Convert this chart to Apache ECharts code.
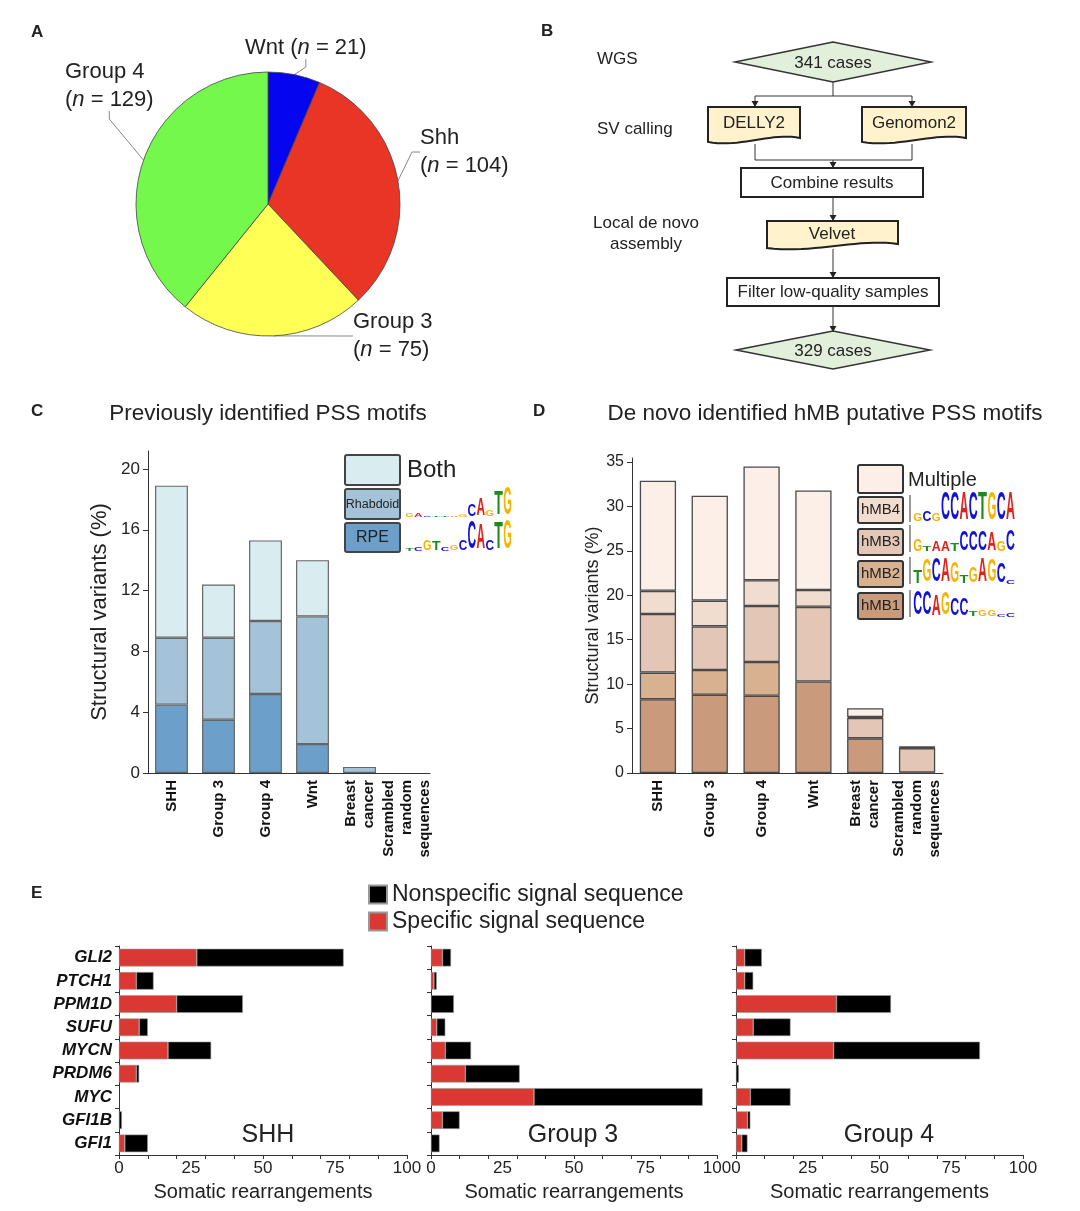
<!DOCTYPE html>
<html><head><meta charset="utf-8">
<script src="https://cdn.jsdelivr.net/npm/echarts@6/dist/echarts.min.js"></script>
<style>html,body{margin:0;padding:0;background:#fff}#c{width:1080px;height:1211px}</style>
</head><body><div id="c"></div><script>
const FONT = '"Liberation Sans", Arial, Helvetica, sans-serif';

// ---------- Panel A data ----------
const pieNames = ['Wnt', 'Shh', 'Group 3', 'Group 4'];
const pieValues = [21, 104, 75, 129];
const pieColors = ['#0505F0', '#E83526', '#FFFF55', '#74F84B'];

// ---------- Panel C data ----------
const catsC = ['SHH', 'Group 3', 'Group 4', 'Wnt', 'Breast\ncancer', 'Scrambled\nrandom\nsequences'];
const rpe = [4.5, 3.5, 5.2, 1.9, 0, 0];
const rhabdoid = [4.4, 5.4, 4.8, 8.4, 0.4, 0];
const both = [10.0, 3.5, 5.3, 3.7, 0, 0];
const ticksC = [0, 4, 8, 12, 16, 20];

// ---------- Panel D data ----------
const hmb1 = [8.3, 8.8, 8.7, 10.3, 3.9, 0.05];
const hmb2 = [3.0, 2.8, 3.8, 0, 0, 0];
const hmb3 = [6.6, 4.9, 6.3, 8.4, 2.3, 2.75];
const hmb4 = [2.6, 2.9, 2.9, 1.9, 0.1, 0.1];
const multiple = [12.4, 11.8, 12.8, 11.2, 1.0, 0.05];
const ticksD = [0, 5, 10, 15, 20, 25, 30, 35];

// ---------- Panel E data ----------
const genes = ['GLI2', 'PTCH1', 'PPM1D', 'SUFU', 'MYCN', 'PRDM6', 'MYC', 'GFI1B', 'GFI1'];
const shhSpec = [27, 6, 20, 7, 17, 6, 0, 0, 2];
const shhNon  = [51, 6, 23, 3, 15, 1, 0, 1, 8];
const g3Spec  = [4, 1, 0, 2, 5, 12, 36, 4, 0];
const g3Non   = [3, 1, 8, 3, 9, 19, 59, 6, 3];
const g4Spec  = [3, 3, 35, 6, 34, 0, 5, 4, 2];
const g4Non   = [6, 3, 19, 13, 51, 1, 14, 1, 2];
const ticksE = [0, 25, 50, 75, 100];
const minorTicksE = [0, 10, 20, 30, 40, 50, 60, 70, 80, 90, 100];

const nz = a => a.map(v => v === 0 ? '-' : v);

// ---------- graphic helpers ----------
const graphic = [];
function txt(x, y, s, o) {
  graphic.push({type: 'text', x, y, silent: true, z: 50,
    style: Object.assign({text: s, fontFamily: FONT, fontSize: 17, fill: '#222', align: 'left', verticalAlign: 'middle'}, o || {})});
}
function poly(points, fill, stroke, lw) {
  graphic.push({type: 'polygon', silent: true, z: 40, shape: {points}, style: {fill: fill, stroke: stroke, lineWidth: lw}});
}
function line(points) {
  graphic.push({type: 'polyline', silent: true, z: 40, shape: {points}, style: {stroke: '#333', lineWidth: 1, fill: null}});
}
function arrowHead(x, y) { poly([[x - 3.5, y - 6], [x + 3.5, y - 6], [x, y]], '#222', null, 0); }
function diamond(cx, cy, hw, hh) { poly([[cx - hw, cy], [cx, cy - hh], [cx + hw, cy], [cx, cy + hh]], '#E2EFDA', '#333', 1.5); }
function doc(x, y, w, h) {
  const pts = [[x, y], [x + w, y], [x + w, y + h - 3]];
  const p0 = [x + w, y + h - 3], p1 = [x + w * 0.7, y + h - 9], p2 = [x + w * 0.35, y + h + 7], p3 = [x, y + h + 1];
  for (let k = 1; k <= 20; k++) {
    const t = k / 20, u = 1 - t;
    pts.push([u*u*u*p0[0] + 3*u*u*t*p1[0] + 3*u*t*t*p2[0] + t*t*t*p3[0],
              u*u*u*p0[1] + 3*u*u*t*p1[1] + 3*u*t*t*p2[1] + t*t*t*p3[1]]);
  }
  poly(pts, '#FFF2CC', '#222', 2);
}
function box(x, y, w, h, fill, stroke, lw, r) {
  graphic.push({type: 'rect', silent: true, z: 40, shape: {x, y, width: w, height: h, r: r || 0},
    style: {fill, stroke, lineWidth: lw}});
}

// ---------- panel letters & titles ----------
txt(31, 32, 'A', {fontWeight: 'bold', fontSize: 17});
txt(541, 31, 'B', {fontWeight: 'bold', fontSize: 17});
txt(31, 411, 'C', {fontWeight: 'bold', fontSize: 17});
txt(533, 411, 'D', {fontWeight: 'bold', fontSize: 17});
txt(31, 893, 'E', {fontWeight: 'bold', fontSize: 17});
txt(268, 414, 'Previously identified PSS motifs', {fontSize: 22.5, align: 'center'});
txt(825, 414, 'De novo identified hMB putative PSS motifs', {fontSize: 22.5, align: 'center'});

// ---------- Panel B flowchart ----------
txt(597, 59, 'WGS');
txt(597, 129, 'SV calling');
txt(646, 223, 'Local de novo', {align: 'center'});
txt(646, 244, 'assembly', {align: 'center'});
diamond(833, 62, 98, 20);
txt(833, 63, '341 cases', {align: 'center'});
line([[833, 82], [833, 96]]);
line([[755, 96], [912, 96]]);
line([[755, 96], [755, 107]]); arrowHead(755, 107);
line([[912, 96], [912, 107]]); arrowHead(912, 107);
doc(708, 107, 92, 34);
txt(754, 123, 'DELLY2', {align: 'center'});
doc(862, 107, 104, 34);
txt(914, 123, 'Genomon2', {align: 'center'});
line([[755, 144], [755, 160], [912, 160], [912, 144]]);
line([[833, 160], [833, 168]]); arrowHead(833, 168);
box(741, 168, 182, 29, '#fff', '#222', 2);
txt(832, 183, 'Combine results', {align: 'center'});
line([[833, 197], [833, 221]]); arrowHead(833, 221);
doc(767, 221, 131, 26);
txt(832, 234, 'Velvet', {align: 'center'});
line([[833, 249], [833, 278]]); arrowHead(833, 278);
box(727, 278, 212, 28, '#fff', '#222', 2);
txt(833, 292, 'Filter low-quality samples', {align: 'center'});
line([[833, 306], [833, 332]]); arrowHead(833, 332);
diamond(833, 350, 97, 19);
txt(833, 351, '329 cases', {align: 'center'});

// ---------- sequence logos ----------
const LC = {A: '#E0221C', C: '#1212D6', G: '#F5B400', T: '#1C8A1C'};
const LW = {A: 14.4, C: 14.4, G: 15.6, T: 12.2};
function logo(x0, base, w, maxH, seq, hts) {
  const chars = seq.split(''), n = chars.length, cw = w / n;
  chars.forEach((ch, i) => {
    const h = hts[i] * maxH;
    if (h < 0.8) return;
    graphic.push({type: 'text', silent: true, z: 45, x: x0 + cw * (i + 0.5), y: base - h / 2,
      scaleX: cw * 0.96 / LW[ch], scaleY: h / 14.3,
      style: {text: ch, fontFamily: FONT, fontSize: 20, fontWeight: 'bold', fill: LC[ch], align: 'center', verticalAlign: 'middle'}});
  });
}

// Panel C legend
const colC = {RPE: '#6C9FC9', Rhabdoid: '#A4C3D9', Both: '#D9ECEF'};
box(345, 455, 55, 30, colC.Both, '#444', 2, 2);
box(345, 489, 55, 30, colC.Rhabdoid, '#444', 2, 2);
box(345, 523, 55, 29, colC.RPE, '#444', 2, 2);
txt(407, 470, 'Both', {fontSize: 24});
txt(372.5, 505, 'Rhabdoid', {fontSize: 12.5, align: 'center'});
txt(372.5, 538, 'RPE', {fontSize: 16, align: 'center'});
logo(405, 517, 107, 28, 'GACTTAGCAGTG', [0.12, 0.12, 0.03, 0.03, 0.03, 0.03, 0.08, 0.4, 0.6, 0.25, 0.85, 1.0]);
logo(405, 551, 107, 29, 'TCGTCGCCACTG', [0.1, 0.15, 0.35, 0.3, 0.12, 0.2, 0.35, 0.95, 0.85, 0.35, 0.9, 1.0]);

// Panel D legend
const colD = {hMB1: '#C99B7C', hMB2: '#D8B190', hMB3: '#E3C6B5', hMB4: '#F1DDD0', Multiple: '#FBEFE8'};
box(858, 465, 45, 28, colD.Multiple, '#333', 2, 2);
box(858, 497, 45, 26, colD.hMB4, '#333', 2, 2);
box(858, 529, 45, 26, colD.hMB3, '#333', 2, 2);
box(858, 561, 45, 26, colD.hMB2, '#333', 2, 2);
box(858, 593, 45, 26, colD.hMB1, '#333', 2, 2);
txt(908, 480, 'Multiple', {fontSize: 20});
[['hMB4', 510], ['hMB3', 542], ['hMB2', 574], ['hMB1', 606]].forEach(([s, y]) => txt(880.5, y, s, {fontSize: 15, align: 'center'}));
[522, 552, 584, 617].forEach(b => line([[910, b - 27], [910, b]]));
logo(913, 522, 102, 28, 'GCGCCACTGCA', [0.3, 0.35, 0.3, 1, 1, 1, 1, 1, 1, 1, 1]);
logo(913, 552, 102, 28, 'GTAATCCCAGC', [0.42, 0.2, 0.35, 0.35, 0.3, 0.72, 0.72, 0.72, 0.68, 0.38, 0.75]);
logo(913, 584, 102, 28, 'TGCAGTGAGCC', [0.45, 0.8, 0.85, 0.85, 0.75, 0.3, 0.55, 0.85, 0.8, 0.7, 0.15]);
logo(913, 617, 102, 28, 'CCAGCCTGGCC', [0.85, 0.85, 0.75, 0.8, 0.6, 0.6, 0.2, 0.25, 0.25, 0.1, 0.15]);

// Panel E subplot labels
txt(268, 1135, 'SHH', {fontSize: 25, align: 'center'});
txt(573, 1135, 'Group 3', {fontSize: 25, align: 'center'});
txt(889, 1135, 'Group 4', {fontSize: 25, align: 'center'});

// ---------- axes ----------
const axisCol = '#333';
const pieLabelPos = [[245, 48], [420, 152], [353, 336], [65, 86]];

const xAxes = [
  {gridIndex: 0, type: 'category', data: catsC,
   axisLine: {lineStyle: {color: axisCol}}, axisTick: {alignWithLabel: true, length: 5, lineStyle: {color: axisCol}},
   axisLabel: {rotate: 90, interval: 0, fontSize: 15, fontWeight: 'bold', color: '#111', lineHeight: 18, margin: 7}},
  {gridIndex: 1, type: 'category', data: catsC,
   axisLine: {lineStyle: {color: axisCol}}, axisTick: {alignWithLabel: true, length: 5, lineStyle: {color: axisCol}},
   axisLabel: {rotate: 90, interval: 0, fontSize: 15, fontWeight: 'bold', color: '#111', lineHeight: 18, margin: 7}}
];
const yAxes = [
  {gridIndex: 0, type: 'value', min: 0, max: 21.18,
   axisLine: {show: true, lineStyle: {color: axisCol}}, axisTick: {show: true, length: 5, customValues: ticksC, lineStyle: {color: axisCol}},
   axisLabel: {customValues: ticksC, fontSize: 17, color: '#222', margin: 8}, splitLine: {show: false},
   name: 'Structural variants (%)', nameLocation: 'middle', nameRotate: 90, nameGap: 37,
   nameTextStyle: {fontSize: 22, color: '#222'}},
  {gridIndex: 1, type: 'value', min: 0, max: 35.45,
   axisLine: {show: true, lineStyle: {color: axisCol}}, axisTick: {show: true, length: 5, customValues: ticksD, lineStyle: {color: axisCol}},
   axisLabel: {customValues: ticksD, fontSize: 16, color: '#222', margin: 8}, splitLine: {show: false},
   name: 'Structural variants (%)', nameLocation: 'middle', nameRotate: 90, nameGap: 25,
   nameTextStyle: {fontSize: 18, color: '#222'}}
];
[2, 3, 4].forEach(g => {
  xAxes.push({gridIndex: g, type: 'value', min: 0, max: 100,
    axisLine: {show: true, lineStyle: {color: axisCol}},
    axisTick: {show: true, length: 4, customValues: minorTicksE, lineStyle: {color: axisCol}},
    axisLabel: {customValues: ticksE, fontSize: 17, color: '#222', margin: 5}, splitLine: {show: false},
    name: 'Somatic rearrangements', nameLocation: 'middle', nameGap: 27, nameTextStyle: {fontSize: 20, color: '#222'}});
  yAxes.push({gridIndex: g, type: 'category', inverse: true, data: genes,
    axisLine: {show: true, lineStyle: {color: axisCol}}, axisTick: {show: true, length: 4, lineStyle: {color: axisCol}},
    axisLabel: g === 2 ? {fontSize: 17, fontWeight: 'bold', fontStyle: 'italic', color: '#111', margin: 7} : {show: false}});
});

// ---------- series ----------
const series = [];
series.push({
  type: 'pie', center: [268, 204], radius: 132, startAngle: 90, clockwise: true, silent: true,
  data: pieNames.map((n, i) => ({name: n, value: pieValues[i], itemStyle: {color: pieColors[i]}})),
  itemStyle: {borderColor: '#444', borderWidth: 0.8},
  label: {
    show: true, position: 'outside', color: '#222',
    formatter: p => p.dataIndex === 0
      ? '{a|' + p.name + ' (}{i|n}{a| = ' + p.value + ')}'
      : '{a|' + p.name + '}\n{a|(}{i|n}{a| = ' + p.value + ')}',
    rich: {a: {fontSize: 22, fontFamily: FONT, color: '#222', lineHeight: 28},
           i: {fontSize: 22, fontFamily: FONT, fontStyle: 'italic', color: '#222', lineHeight: 28}}
  },
  labelLine: {show: true, length: 8, length2: 8, lineStyle: {color: '#888', width: 1}},
  labelLayout: params => {
    const p = pieLabelPos[params.dataIndex];
    return {x: p[0], y: p[1], align: 'left', verticalAlign: 'middle'};
  }
});

[['RPE', rpe], ['Rhabdoid', rhabdoid], ['Both', both]].forEach(([n, d]) => series.push({
  type: 'bar', name: n, xAxisIndex: 0, yAxisIndex: 0, stack: 'c', barWidth: '70%', data: nz(d), silent: true,
  itemStyle: {color: colC[n], borderColor: '#666', borderWidth: 1.2}
}));
[['hMB1', hmb1], ['hMB2', hmb2], ['hMB3', hmb3], ['hMB4', hmb4], ['Multiple', multiple]].forEach(([n, d]) => series.push({
  type: 'bar', name: n, xAxisIndex: 1, yAxisIndex: 1, stack: 'd', barWidth: '70%', data: nz(d), silent: true,
  itemStyle: {color: colD[n], borderColor: '#4a4a4a', borderWidth: 1.3}
}));
[[shhSpec, shhNon], [g3Spec, g3Non], [g4Spec, g4Non]].forEach(([sp, ns], k) => {
  series.push({type: 'bar', name: 'Specific signal sequence', xAxisIndex: 2 + k, yAxisIndex: 2 + k, stack: 'e' + k,
    barWidth: '76%', data: nz(sp), silent: true, itemStyle: {color: '#DA3832', borderColor: '#999', borderWidth: 0.6}});
  series.push({type: 'bar', name: 'Nonspecific signal sequence', xAxisIndex: 2 + k, yAxisIndex: 2 + k, stack: 'e' + k,
    barWidth: '76%', data: nz(ns), silent: true, itemStyle: {color: '#000', borderColor: '#999', borderWidth: 0.6}});
});

const chart = echarts.init(document.getElementById('c'), null, {width: 1080, height: 1211});
chart.setOption({
  animation: false,
  backgroundColor: '#fff',
  textStyle: {fontFamily: FONT},
  grid: [
    {left: 148, top: 451, width: 282, height: 322},
    {left: 632, top: 458, width: 311, height: 315},
    {left: 119, top: 946, width: 288, height: 209},
    {left: 431, top: 946, width: 286, height: 209},
    {left: 736, top: 946, width: 287, height: 209}
  ],
  legend: {
    data: ['Nonspecific signal sequence', 'Specific signal sequence'],
    orient: 'vertical', left: 368, top: 883, padding: 0, itemWidth: 18, itemHeight: 18, itemGap: 4,
    icon: 'rect', selectedMode: false, textStyle: {fontSize: 23, color: '#222', fontFamily: FONT}
  },
  xAxis: xAxes,
  yAxis: yAxes,
  series: series,
  graphic: graphic
});
</script></body></html>
